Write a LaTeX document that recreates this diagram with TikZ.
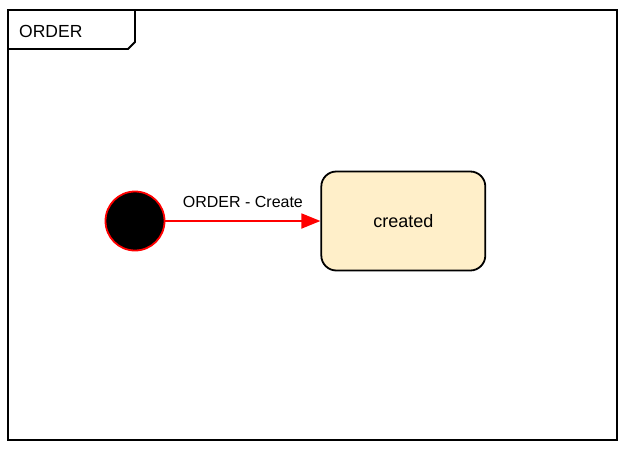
\documentclass[tikz,border=0pt]{standalone}
\usepackage{fontspec}
\setmainfont{Liberation Sans}
\usetikzlibrary{arrows.meta, positioning}

\definecolor{stateyellow}{HTML}{FFEFC9}

\tikzset{
  frame/.style={draw=black, line width=2pt},
  initial/.style={circle, draw=red, fill=black, line width=1.8pt, minimum size=59pt, inner sep=0pt},
  statebox/.style={draw=black, fill=stateyellow, rounded corners=15pt, line width=1.8pt,
    minimum width=164pt, minimum height=99pt, font=\fontsize{18}{21}\selectfont},
  transition/.style={draw=red, line width=1.8pt, -{Triangle[length=19pt, width=15pt]}},
  trlabel/.style={font=\fontsize{16}{19}\selectfont, text=black}
}

\begin{document}
\begin{tikzpicture}[x=1pt, y=-1pt]
\useasboundingbox (0,0) rectangle (628,450);
% package frame with name tab
\draw[frame] (8,10) rectangle (617,440);
\draw[line width=1.8pt] (8,49) -- (128,49) -- (135,42) -- (135,10);
\node[anchor=west, inner sep=0pt, font=\fontsize{17.5}{20}\selectfont] (pkg) at (19,31) {ORDER};

\node[initial] (start) at (135,221) {};
\node[statebox, right=155pt of start] (created) {created};

\draw[transition] (start) -- node[trlabel, above=9pt] {ORDER - Create} (created);
\end{tikzpicture}
\end{document}
